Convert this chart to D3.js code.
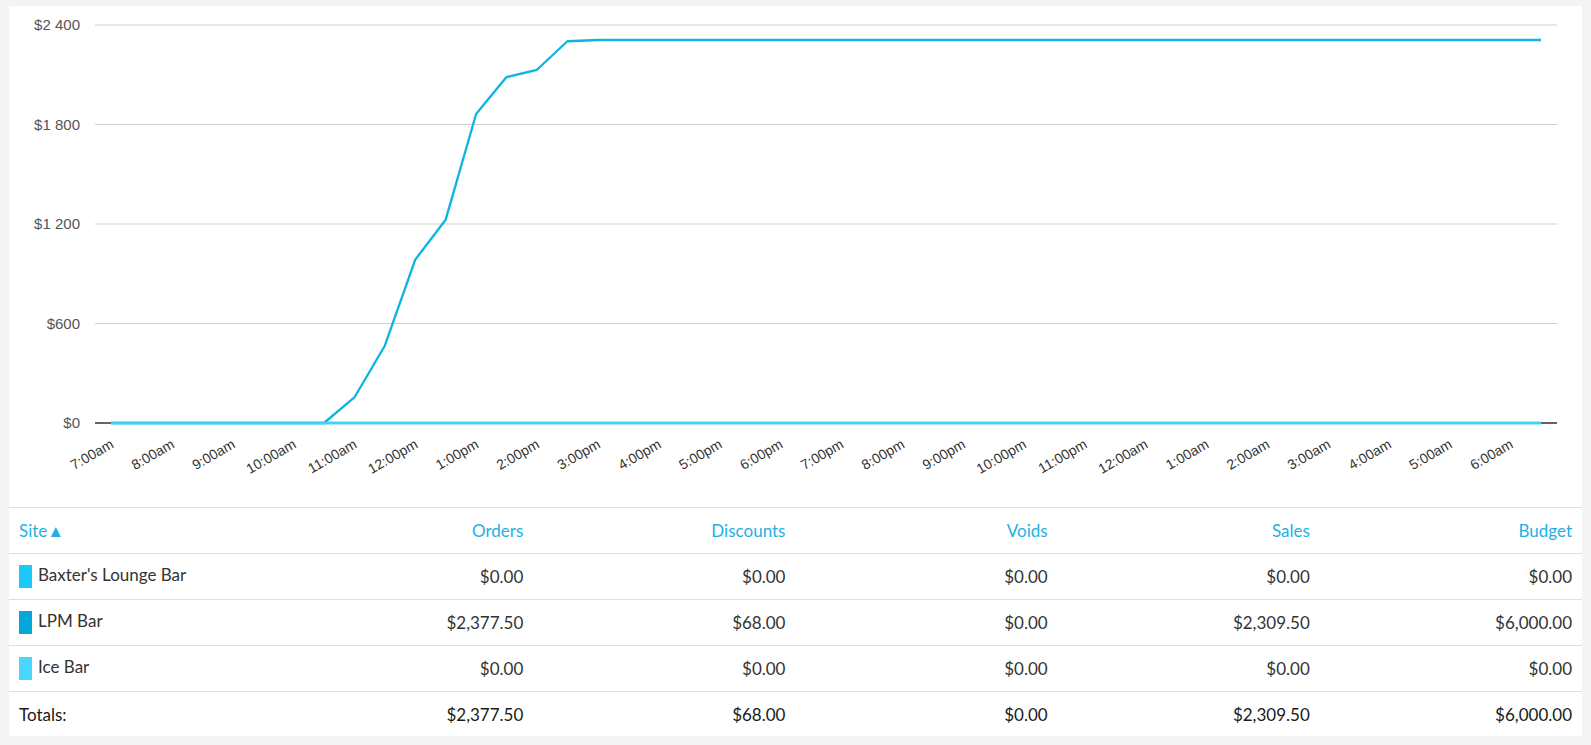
<!DOCTYPE html>
<html>
<head>
<meta charset="utf-8">
<script src="https://cdn.jsdelivr.net/npm/d3@7/dist/d3.min.js"></script>
<style>
  body { margin: 0; background: #f4f4f4; font-family: Lato, "Open Sans", sans-serif; }
  #panel { position: absolute; left: 9px; top: 6px; width: 1573px; height: 730px; background: #fff; }
  #chart { display: block; }
  table { width: 1573px; border-collapse: collapse; table-layout: fixed; font-size: 17px; }
  td, th { height: 45px; padding: 0 10px; border-top: 1px solid #dedede; text-align: right; font-weight: normal; color: #333; white-space: nowrap; }
  th { color: #1eb0e3; }
  td.site, th.site { text-align: left; }
  .swatch { display: inline-block; width: 13px; height: 23px; vertical-align: middle; margin-right: 6px; position: relative; top: -1px; }
  tr.totals td { color: #1a1a1a; }
</style>
</head>
<body>
<div id="panel">
  <svg id="chart" width="1573" height="501"></svg>
  <table id="grid"></table>
</div>
<script>
// hour tick labels, one per hour, 7am to 6am
var hourLabels = ['7:00am', '8:00am', '9:00am', '10:00am', '11:00am', '12:00pm', '1:00pm', '2:00pm',
    '3:00pm', '4:00pm', '5:00pm', '6:00pm', '7:00pm', '8:00pm', '9:00pm', '10:00pm', '11:00pm',
    '12:00am', '1:00am', '2:00am', '3:00am', '4:00am', '5:00am', '6:00am'];

var yTicks = [0, 600, 1200, 1800, 2400];

// cumulative sales per half hour (7:00am .. 6:30am)
var baxterSales = [0, 0, 0, 0, 0, 0, 0, 0, 0, 0, 0, 0, 0, 0, 0, 0,
    0, 0, 0, 0, 0, 0, 0, 0, 0, 0, 0, 0, 0, 0, 0, 0,
    0, 0, 0, 0, 0, 0, 0, 0, 0, 0, 0, 0, 0, 0, 0, 0];
var lpmSales = [0, 0, 0, 0, 0, 0, 0, 0, 154, 466, 985, 1226, 1863, 2086, 2130, 2302,
    2309.5, 2309.5, 2309.5, 2309.5, 2309.5, 2309.5, 2309.5, 2309.5, 2309.5, 2309.5, 2309.5, 2309.5, 2309.5, 2309.5, 2309.5, 2309.5,
    2309.5, 2309.5, 2309.5, 2309.5, 2309.5, 2309.5, 2309.5, 2309.5, 2309.5, 2309.5, 2309.5, 2309.5, 2309.5, 2309.5, 2309.5, 2309.5];
var iceSales = [0, 0, 0, 0, 0, 0, 0, 0, 0, 0, 0, 0, 0, 0, 0, 0,
    0, 0, 0, 0, 0, 0, 0, 0, 0, 0, 0, 0, 0, 0, 0, 0,
    0, 0, 0, 0, 0, 0, 0, 0, 0, 0, 0, 0, 0, 0, 0, 0];

// table
var sites = ["Baxter's Lounge Bar", 'LPM Bar', 'Ice Bar'];
var siteColors = ['#1ccaf7', '#04a9dc', '#4ad6fb'];
var orders = [0, 2377.5, 0];
var discounts = [0, 68, 0];
var voids = [0, 0, 0];
var sales = [0, 2309.5, 0];
var budget = [0, 6000, 0];
var columns = ['Orders', 'Discounts', 'Voids', 'Sales', 'Budget'];

// half hour slots built from the hour labels
var slots = [];
hourLabels.forEach(function (h) {
    slots.push(h);
    slots.push(h.replace(':00', ':30'));
});

var svg = d3.select('#chart');
var plot = { left: 86, right: 1548, top: 19, bottom: 417 };

var x = d3.scalePoint().domain(slots).range([plot.left + 16, plot.right - 16]);
var y = d3.scaleLinear().domain([0, 2400]).range([plot.bottom, plot.top]);

var loc = d3.formatLocale({ decimal: '.', thousands: '\u00a0', grouping: [3], currency: ['$', ''] });
var yFmt = loc.format('$,d');

// grid lines
svg.append('g').selectAll('line')
    .data(yTicks.filter(function (d) { return d > 0; }))
    .enter().append('line')
    .attr('x1', plot.left).attr('x2', plot.right)
    .attr('y1', function (d) { return y(d); })
    .attr('y2', function (d) { return y(d); })
    .attr('stroke', '#cfcfcf')
    .attr('stroke-width', 1);

// y axis labels
var yAxis = svg.append('g')
    .attr('transform', 'translate(' + (plot.left - 15) + ',0)')
    .call(d3.axisLeft(y).tickValues(yTicks).tickFormat(yFmt).tickSize(0).tickPadding(0));
yAxis.select('.domain').remove();
yAxis.selectAll('text')
    .attr('font-family', '"Liberation Sans", Arial, sans-serif')
    .attr('font-size', 15)
    .attr('fill', '#555');

// baseline
svg.append('line')
    .attr('x1', plot.left).attr('x2', plot.right)
    .attr('y1', y(0)).attr('y2', y(0))
    .attr('stroke', '#666')
    .attr('stroke-width', 2);

// x axis labels, hourly
var xAxis = svg.append('g')
    .attr('transform', 'translate(0,' + y(0) + ')')
    .call(d3.axisBottom(x).tickValues(hourLabels).tickSize(0).tickPadding(0));
xAxis.select('.domain').remove();
xAxis.selectAll('text')
    .attr('font-family', '"Liberation Sans", Arial, sans-serif')
    .attr('font-size', 14)
    .attr('fill', '#333')
    .attr('text-anchor', 'end')
    .attr('dy', null)
    .attr('y', 0)
    .attr('transform', 'translate(3,24) rotate(-30)');

var line = d3.line()
    .x(function (d, i) { return x(slots[i]); })
    .y(function (d) { return y(d); });

var series = [baxterSales, lpmSales, iceSales];
svg.append('g').selectAll('path')
    .data(series)
    .enter().append('path')
    .attr('d', line)
    .attr('fill', 'none')
    .attr('stroke', function (d, i) { return ['#1ccaf7', '#0db4e2', '#40d2f8'][i]; })
    .attr('stroke-width', 2.3)
    .attr('stroke-linejoin', 'round');

// table
var money = d3.format('$,.2f');
var table = d3.select('#grid');
var head = table.append('tr');
head.append('th').attr('class', 'site').text('Site\u25b2');
columns.forEach(function (c) { head.append('th').text(c); });

var cols = [orders, discounts, voids, sales, budget];
sites.forEach(function (s, i) {
    var tr = table.append('tr');
    var td = tr.append('td').attr('class', 'site');
    td.append('span').attr('class', 'swatch').style('background', siteColors[i]);
    td.append('span').text(s);
    cols.forEach(function (c) { tr.append('td').text(money(c[i])); });
});

var tot = table.append('tr').attr('class', 'totals');
tot.append('td').attr('class', 'site').text('Totals:');
cols.forEach(function (c) { tot.append('td').text(money(d3.sum(c))); });
</script>
</body>
</html>
